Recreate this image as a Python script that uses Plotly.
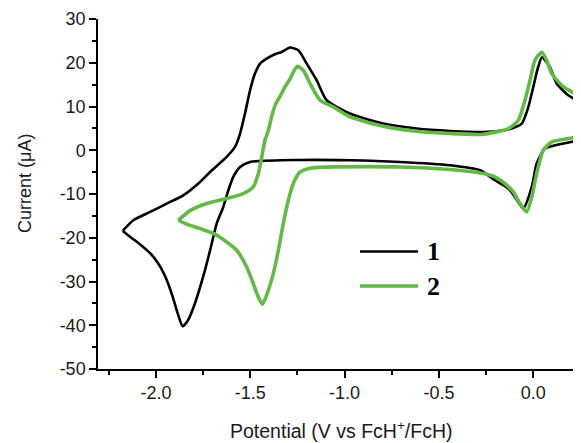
import plotly.graph_objects as go

# Curve 1 (black): cathodic sweep (from right to switching potential)
pot_1_cath = [0.26, 0.247, 0.115, 0.062, 0.018, -0.008, -0.053, -0.097, -0.132, -0.203, -0.282,
              -0.441, -0.706, -0.971, -1.236, -1.501, -1.554, -1.590, -1.616, -1.643, -1.678,
              -1.713, -1.750, -1.793, -1.830, -1.858, -1.883, -1.909, -1.936, -1.961, -1.994,
              -2.031, -2.079, -2.127, -2.176]
cur_1_cath = [2.5, 2.29, 1.14, 0.39, -3.04, -8.39, -13.33, -10.67, -8.75, -6.86, -4.57,
              -3.43, -2.67, -2.29, -2.22, -2.67, -3.82, -6.10, -9.14, -12.96, -16.75,
              -22.9, -28.96, -34.97, -38.86, -40.23, -37.5, -33.8, -30.4, -27.9, -25.5,
              -23.5, -21.7, -20.1, -18.45]
# Curve 1 (black): anodic return sweep
pot_1_an = [-2.176, -2.120, -2.031, -1.943, -1.855, -1.766, -1.713, -1.625, -1.581, -1.554, -1.528,
            -1.501, -1.475, -1.448, -1.413, -1.369, -1.333, -1.289, -1.245, -1.201, -1.148,
            -1.095, -0.972, -0.795, -0.618, -0.441, -0.265, -0.132, -0.061, -0.026, 0.000,
            0.026, 0.046, 0.088, 0.124, 0.185, 0.247, 0.26]
cur_1_an = [-18.45, -16.0, -14.1, -12.2, -10.3, -7.25, -4.96, -1.53, 0.75, 3.82, 8.39,
            13.71, 17.53, 19.82, 20.96, 21.94, 22.47, 23.47, 22.86, 19.82, 16.0,
            11.43, 8.39, 6.10, 4.96, 4.41, 4.18, 4.73, 6.10, 9.90, 14.47,
            19.04, 21.26, 19.04, 15.25, 12.57, 11.04, 10.7]

# Curve 2 (green): cathodic sweep
pot_2_cath = [0.26, 0.247, 0.185, 0.098, 0.053, 0.018, -0.008, -0.035, -0.070, -0.106, -0.150,
              -0.203, -0.265, -0.441, -0.706, -1.060, -1.130, -1.183, -1.237, -1.272, -1.298,
              -1.325, -1.351, -1.378, -1.404, -1.435, -1.457, -1.484, -1.519, -1.572, -1.625,
              -1.696, -1.766, -1.837, -1.881]
cur_2_cath = [3.1, 3.04, 2.67, 1.90, 0.0, -5.33, -10.67, -14.10, -12.18, -9.53, -7.61,
              -6.10, -5.33, -4.41, -3.82, -3.8, -3.9, -4.1, -5.0, -7.61, -11.43,
              -16.75, -22.86, -28.2, -32.0, -35.2, -33.6, -30.47, -26.67, -22.86, -20.96,
              -19.0, -17.9, -16.9, -16.0]
# Curve 2 (green): anodic return sweep
pot_2_an = [-1.881, -1.819, -1.731, -1.625, -1.537, -1.484, -1.457, -1.439, -1.422, -1.404, -1.385,
            -1.365, -1.342, -1.316, -1.289, -1.265, -1.250, -1.219, -1.183, -1.130,
            -1.060, -0.971, -0.795, -0.618, -0.441, -0.265, -0.132, -0.079, -0.044, -0.017,
            0.009, 0.045, 0.071, 0.098, 0.150, 0.203, 0.247, 0.26]
cur_2_an = [-16.0, -13.8, -12.18, -11.04, -9.90, -8.39, -5.33, -1.53, 2.29, 4.57, 8.0,
            10.6, 12.3, 14.5, 16.3, 18.4, 19.2, 18.29, 15.25, 11.43,
            9.90, 7.61, 5.49, 4.34, 3.82, 3.66, 4.96, 6.86, 11.43, 16.0,
            20.57, 22.4, 20.57, 17.53, 14.86, 13.33, 12.57, 12.3]

x_ticks = [-2.0, -1.5, -1.0, -0.5, 0.0]
x_tick_labels = ["-2.0", "-1.5", "-1.0", "-0.5", "0.0"]
y_ticks = [30, 20, 10, 0, -10, -20, -30, -40, -50]
y_tick_labels = ["30", "20", "10", "0", "-10", "-20", "-30", "-40", "-50"]
series_names = ["1", "2"]
colors = ["#000000", "#63b946"]
widths = [2.6, 3.6]

series = [
    [(pot_1_cath, cur_1_cath), (pot_1_an, cur_1_an)],
    [(pot_2_cath, cur_2_cath), (pot_2_an, cur_2_an)],
]

fig = go.Figure()
for i, branches in enumerate(series):
    for xs, ys in branches:
        fig.add_trace(go.Scatter(x=xs, y=ys, mode="lines", name=series_names[i],
                                 line=dict(color=colors[i], width=widths[i],
                                           shape="spline", smoothing=0.6),
                                 showlegend=False))

tick_font = dict(family="Arial, Liberation Sans, sans-serif", size=18, color="#1a1a1a")

# page body has an 8px offset; figure sized so the plot lands where the reference has it
W, H = 573, 435
ML, MT, MB = 90, 11, 74
PW, PH = W - ML, H - MT - MB  # 483 x 350

fig.update_layout(
    width=W, height=H,
    margin=dict(l=ML, r=0, t=MT, b=MB),
    paper_bgcolor="white", plot_bgcolor="white",
    font=tick_font,
    xaxis=dict(range=[-2.307, 0.253], tickvals=x_ticks, ticktext=x_tick_labels,
               showgrid=False, zeroline=False, showline=True, linecolor="black", linewidth=1.5,
               ticks="outside", ticklen=7, tickwidth=1.5, tickcolor="black", tickfont=tick_font,
               minor=dict(ticks="outside", ticklen=4, tickwidth=1.5, tickcolor="black",
                          dtick=0.25, tick0=0)),
    yaxis=dict(range=[-50, 30], tickvals=y_ticks, ticktext=y_tick_labels,
               showgrid=False, zeroline=False, showline=True, linecolor="black", linewidth=1.5,
               ticks="outside", ticklen=7, tickwidth=1.5, tickcolor="black", tickfont=tick_font,
               minor=dict(ticks="outside", ticklen=4, tickwidth=1.5, tickcolor="black",
                          dtick=5, tick0=0)),
)

# axis titles
fig.add_annotation(xref="paper", yref="paper", x=(341.7 - 98) / PW, y=0, yshift=-61,
                   xanchor="center", yanchor="middle", showarrow=False,
                   text="Potential (V vs FcH<sup>+</sup>/FcH)",
                   font=dict(family="Arial, Liberation Sans, sans-serif", size=19.5, color="#1a1a1a"))
fig.add_annotation(xref="paper", yref="paper", x=0, xshift=-73, y=1 - (184 - 19) / PH,
                   xanchor="center", yanchor="middle", showarrow=False, textangle=-90,
                   text="Current (μA)",
                   font=dict(family="Arial, Liberation Sans, sans-serif", size=18, color="#1a1a1a"))

# legend drawn as line samples with labels
legend_y = [251.5, 286]
for i, name in enumerate(series_names):
    yp = 1 - (legend_y[i] - 19) / PH
    fig.add_shape(type="line", xref="paper", yref="paper",
                  x0=(360 - 98) / PW, x1=(418 - 98) / PW, y0=yp, y1=yp,
                  line=dict(color=colors[i], width=widths[i]))
    fig.add_annotation(xref="paper", yref="paper", x=(425 - 98) / PW, y=yp,
                       xanchor="left", yanchor="middle", showarrow=False,
                       text="<b>" + name + "</b>",
                       font=dict(family="Liberation Serif, Times New Roman, serif", size=26,
                                 color="black"))

fig.write_html("out.html")
